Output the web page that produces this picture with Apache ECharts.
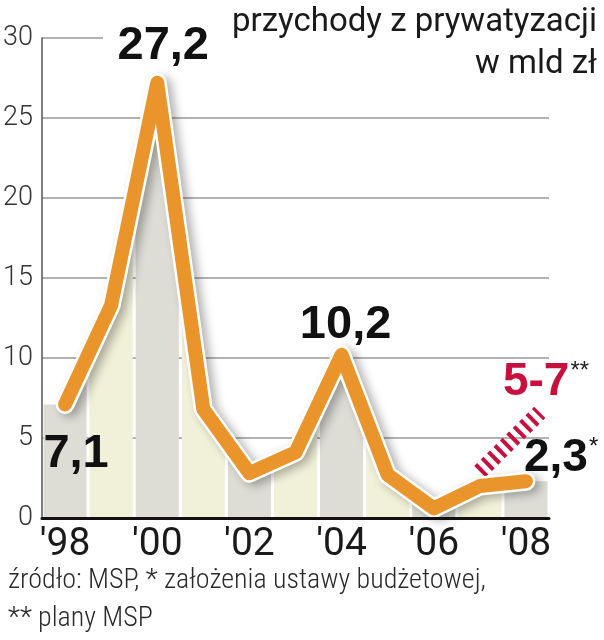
<!DOCTYPE html>
<html>
<head>
<meta charset="utf-8">
<script src="https://cdn.jsdelivr.net/npm/echarts@6/dist/echarts.min.js"></script>
<style>html,body{margin:0;padding:0;background:#fff}#c{width:604px;height:640px}</style>
</head>
<body>
<div id="c"></div>
<script>
// ---- data ----
const years = [1998, 1999, 2000, 2001, 2002, 2003, 2004, 2005, 2006, 2007, 2008];
const yearLabels = ["'98", "'99", "'00", "'01", "'02", "'03", "'04", "'05", "'06", "'07", "'08"];
const revenue = [7.1, 13.3, 27.2, 6.8, 2.8, 4.1, 10.2, 2.7, 0.6, 2.0, 2.3];
const planYears = [2007.0, 2008.3];
const planValues = [2.9, 6.6];
const yTicks = [0, 5, 10, 15, 20, 25, 30];
const titleText = 'przychody z prywatyzacji\nw mld zł';
const footerText = 'źródło: MSP, * założenia ustawy budżetowej,\n** plany MSP';

const chart = echarts.init(document.getElementById('c'), null, {renderer: 'canvas'});

const lineData = years.map((y, i) => [y, revenue[i]]);
const planData = planYears.map((y, i) => [y, planValues[i]]);

const numFont = "'Liberation Sans', Arial, sans-serif";
const dinFont = "Roboto, 'Noto Sans', sans-serif";
const narrowFont = "'Liberation Sans Narrow', 'Roboto Condensed', Roboto, sans-serif";

function stripes(params, api) {
  const i = params.dataIndex;
  const y = api.value(0), v = api.value(1);
  const vl = i > 0 ? (revenue[i - 1] + v) / 2 : v;
  const vr = i < revenue.length - 1 ? (revenue[i + 1] + v) / 2 : v;
  const p0 = api.coord([y - 0.5, 0]);
  const p1 = api.coord([y - 0.5, vl]);
  const pm = api.coord([y, v]);
  const p2 = api.coord([y + 0.5, vr]);
  const p3 = api.coord([y + 0.5, 0]);
  const g = 1.5;
  return {
    type: 'polygon',
    shape: {points: [[p0[0] + g, p0[1]], [p1[0] + g, p1[1]], pm, [p2[0] - g, p2[1]], [p3[0] - g, p3[1]]]},
    style: {fill: i % 2 === 0 ? '#DDDDD6' : '#F1F1D9'}
  };
}

const labelBase = {show: true, fontFamily: numFont, fontWeight: 'bold', fontSize: 47, color: '#111', textBorderWidth: 0};

chart.setOption({
  animation: false,
  backgroundColor: '#fff',
  grid: {left: 42, right: 55, top: 38, bottom: 122},
  xAxis: [{
    type: 'category',
    data: yearLabels,
    boundaryGap: true,
    axisLine: {show: true, lineStyle: {color: '#111', width: 3}},
    axisTick: {show: false},
    axisLabel: {interval: 1, fontFamily: dinFont, fontSize: 39, color: '#1a1a1a', margin: 8},
    splitLine: {show: false},
    z: 5
  }, {
    type: 'value', min: 1997.5, max: 2008.5, show: false
  }],
  yAxis: {
    type: 'value', min: yTicks[0], max: yTicks[yTicks.length - 1], interval: 5,
    axisLine: {show: true, lineStyle: {color: '#555', width: 1.5}},
    axisTick: {show: false},
    axisLabel: {fontFamily: dinFont, fontWeight: 300, fontSize: 27, color: '#333', margin: 9},
    splitLine: {show: true, lineStyle: {color: '#9a9a9a', width: 1.5}}
  },
  graphic: [
    {type: 'rect', z: 1, shape: {x: 103, y: 33, width: 460, height: 10}, style: {fill: '#fff'}},
    {type: 'text', z: 10, right: 7, top: 2,
     style: {text: titleText, font: '400 33px ' + dinFont, fill: '#1a1a1a', textAlign: 'right', lineHeight: 42}},
    {type: 'text', z: 10, left: 8, top: 562,
     style: {text: footerText, font: '300 28px ' + narrowFont, fill: '#2a2a2a', lineHeight: 38}}
  ],
  series: [
    {type: 'custom', xAxisIndex: 1, renderItem: stripes, data: lineData, z: 0, silent: true, clip: false},
    {type: 'line', xAxisIndex: 1, data: planData, symbol: 'none', z: 3, silent: true,
     lineStyle: {color: '#C8103E', width: 16, type: [4, 5], cap: 'butt'}},
    {type: 'line', xAxisIndex: 1, data: lineData, symbol: 'none', z: 4, silent: true,
     lineStyle: {color: '#ffffff', width: 19, cap: 'round', join: 'round',
       shadowColor: 'rgba(0,0,0,0.3)', shadowBlur: 10, shadowOffsetX: 5, shadowOffsetY: 3}},
    {type: 'line', xAxisIndex: 1, data: lineData, symbol: 'none', z: 5, silent: true,
     lineStyle: {color: '#E9952B', width: 14, cap: 'round', join: 'round'}},
    {type: 'scatter', xAxisIndex: 1, symbolSize: 0, z: 6, silent: true,
     itemStyle: {opacity: 1},
     data: [
       {value: [years[0], revenue[0]], label: Object.assign({}, labelBase, {position: 'inside', offset: [11, 50], formatter: '7,1'})},
       {value: [years[2], revenue[2]], label: Object.assign({}, labelBase, {position: 'inside', offset: [6, -37], formatter: '27,2'})},
       {value: [years[6], revenue[6]], label: Object.assign({}, labelBase, {position: 'inside', offset: [4, -30], formatter: '10,2'})},
       {value: [years[10], revenue[10]], label: {show: true, position: 'inside', align: 'left', offset: [-2, -23],
         formatter: '{a|2,3}{s|*}',
         rich: {a: {fontFamily: numFont, fontWeight: 'bold', fontSize: 46, color: '#111'},
                s: {fontFamily: numFont, fontSize: 24, color: '#111', verticalAlign: 'top', padding: [0, 0, 18, 1]}}}},
       {value: [years[10], 6], label: {show: true, position: 'inside', align: 'left', offset: [-23, -40],
         formatter: '{a|5-7}{s|**}',
         rich: {a: {fontFamily: numFont, fontWeight: 'bold', fontSize: 46, color: '#C8103E'},
                s: {fontFamily: numFont, fontSize: 24, color: '#222', verticalAlign: 'top', padding: [0, 0, 18, 1]}}}}
     ]}
  ]
});
</script>
</body>
</html>
